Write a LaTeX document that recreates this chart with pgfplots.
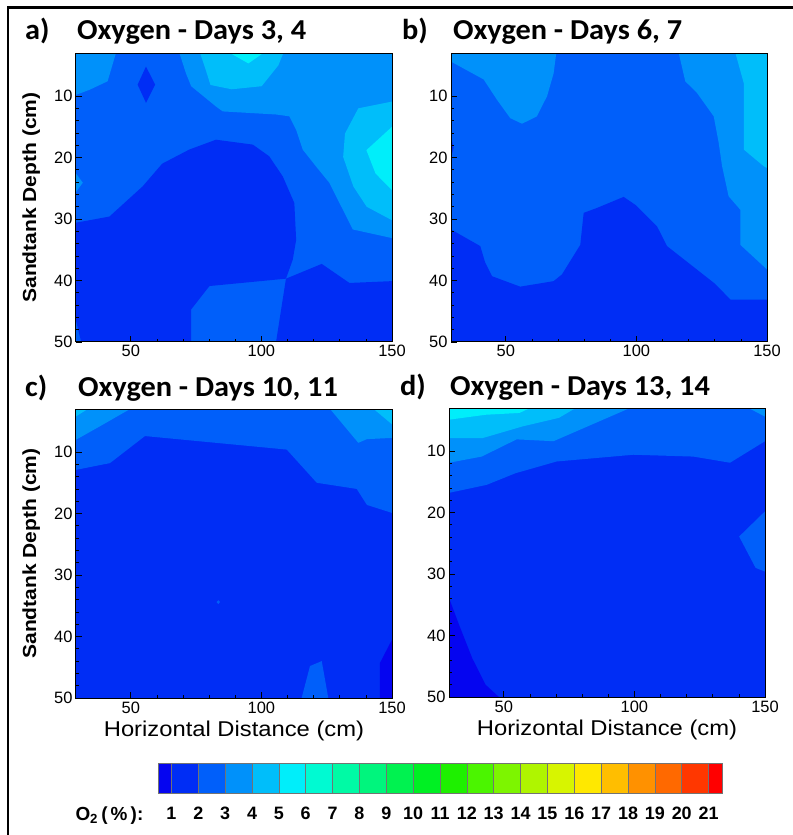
\documentclass[border=0pt]{standalone}
\usepackage{pgfplots}
\pgfplotsset{compat=1.18}
\usepackage{fontspec}
\setmainfont{Liberation Sans}
\newfontfamily\titlefont{Carlito}[FakeStretch=1.05]
\newfontfamily\widesans{Liberation Sans}[FakeStretch=1.11]

% O2 contour levels (Tecplot-like rainbow)
\definecolor{lev0}{RGB}{5,5,240}
\definecolor{lev1}{RGB}{0,45,245}
\definecolor{lev2}{RGB}{0,95,250}
\definecolor{lev3}{RGB}{0,145,250}
\definecolor{lev4}{RGB}{0,190,250}
\definecolor{lev5}{RGB}{0,238,250}
\definecolor{lev6}{RGB}{0,250,210}
\definecolor{lev7}{RGB}{0,250,165}
\definecolor{lev8}{RGB}{0,245,125}
\definecolor{lev9}{RGB}{0,242,80}
\definecolor{lev10}{RGB}{0,240,35}
\definecolor{lev11}{RGB}{30,240,0}
\definecolor{lev12}{RGB}{75,245,0}
\definecolor{lev13}{RGB}{125,245,0}
\definecolor{lev14}{RGB}{175,245,0}
\definecolor{lev15}{RGB}{215,245,0}
\definecolor{lev16}{RGB}{255,232,0}
\definecolor{lev17}{RGB}{255,190,0}
\definecolor{lev18}{RGB}{255,145,0}
\definecolor{lev19}{RGB}{255,105,0}
\definecolor{lev20}{RGB}{255,55,0}
\definecolor{lev21}{RGB}{255,0,0}

% one filled contour band
\newcommand\region[2]{\addplot[fill=#1,draw=none,forget plot] coordinates {#2} -- cycle;}
% one colour-bar cell
\newcommand\cell[3]{\addplot[fill=#3,draw=black!55,line width=0.5bp,forget plot] coordinates {(#1,0) (#2,0) (#2,1) (#1,1)} -- cycle;}

\pgfplotsset{
  panel/.style={
    anchor=south west, scale only axis, width=316bp, height=289bp,
    xmin=29, xmax=150, ymin=3, ymax=50, y dir=reverse,
    axis on top,
    xtick={50,100,150}, ytick={10,20,30,40,50},
    minor x tick num=4, minor y tick num=4,
    tick align=inside, xtick pos=bottom, ytick pos=left,
    major tick length=6bp, minor tick length=3bp,
    tick style={black, line width=0.7bp},
    axis line style={black, line width=1bp},
    /pgf/number format/assume math mode=true,
    tick label style={font=\fontsize{16.5}{18}\selectfont},
    ylabel style={font=\widesans\bfseries\fontsize{19}{22}\selectfont,
      at={(axis description cs:-0.142,0.5)}, anchor=center},
    xlabel style={font=\widesans\fontsize{21.5}{24}\selectfont,
      at={(axis description cs:0.5,-0.114)}, anchor=center},
  },
}

\begin{document}
\begin{tikzpicture}
\useasboundingbox (0,0) rectangle (793bp,835bp);
\fill[white] (0,0) rectangle (793bp,835bp);
\draw[line width=2.6bp] (7.8bp,-10bp) -- (7.8bp,827.5bp) -- (810bp,827.5bp);

% a) Days 3, 4
\begin{axis}[panel, at={(76bp,493bp)}, ylabel={Sandtank Depth (cm)}]
\region{lev2}{(29,3) (150,3) (150,50) (29,50)}
\region{lev3}{(29,3) (44.3,3) (41.1,7.6) (34.1,9.0) (29,9.8)}
\region{lev3}{(29,22.6) (31.6,24.1) (29,25.6)}
\region{lev3}{(68.6,3) (71.1,6.3) (73.1,8.4) (82.6,11.7) (85.2,12.5) (105.6,13.0) (110.7,13.3) (113.3,15.5) (115.8,18.7) (121,21.5) (126,24.1) (131.2,28.5) (135,31.7) (150,33.1) (150,3)}
\region{lev4}{(76.5,3) (78.5,5.5) (80.5,8.2) (88.6,8.9) (100.1,8.4) (106.5,5) (108.4,3)}
\region{lev5}{(88,3) (95,4.7) (100.7,3)}
\region{lev4}{(150,10.9) (137.1,12) (132,16.1) (131.3,19.9) (135.2,24.7) (140.3,28) (150,30.2)}
\region{lev5}{(150,15.0) (140.2,18.8) (143.7,22.6) (150,25.3)}
\region{lev1}{(55.8,5.2) (59.3,8.15) (55.8,11.1) (52.6,8.15)}
\region{lev1}{(29,30.6) (41.8,29.6) (54.5,24.7) (62,21) (72.4,18.7) (82.6,17.1) (96.7,17.9) (103,19.8) (108.2,23.1) (112.6,27.4) (113.3,33.4) (112,36.6) (109.4,39.7) (80.1,40.9) (73.1,44.7) (73.1,50) (31,50) (29,46.5)}
\region{lev1}{(109.4,39.7) (123.1,37.3) (133.7,40.4) (150,40.1) (150,50) (105.6,50)}
\end{axis}

% b) Days 6, 7
\begin{axis}[panel, at={(451bp,493bp)}]
\region{lev2}{(29,3) (150,3) (150,50) (29,50)}
\region{lev3}{(29,3) (69.3,3) (68.3,6.3) (65.8,10.0) (61.9,13.3) (56.2,14.5) (51.7,13.6) (46.6,10.6) (41.5,7.3) (29,4.4)}
\region{lev3}{(116.2,3) (118.7,7.6) (123.2,9.5) (129.6,13.3) (131.5,17.6) (132.8,21.4) (135.3,26.3) (139.8,28.5) (139.8,34.2) (150,38.2) (150,3)}
\region{lev4}{(137.9,3) (141.1,7.9) (141.1,18.7) (148.7,21.4) (150,21.7) (150,3)}
\region{lev1}{(29,16.5) (30,18.4) (29,20.1)}
\region{lev1}{(29,31.7) (40.2,34.4) (42.1,37.1) (44.7,39.3) (55.5,41.0) (68.3,40.1) (71.5,39.0) (78.5,34.2) (79.8,29.0) (84.9,28.2) (95.1,26.4) (99.6,27.7) (107.9,31.2) (111.7,34.4) (121.9,37.8) (130,40.5) (136,43.1) (150,43.1) (150,50) (29,50)}
\end{axis}

% c) Days 10, 11
\begin{axis}[panel, at={(76bp,137bp)}, ylabel={Sandtank Depth (cm)}, xlabel={Horizontal Distance (cm)}]
\region{lev1}{(29,3) (150,3) (150,50) (29,50)}
\region{lev2}{(29,3) (150,3) (150,19.9) (140.4,18.6) (136.5,16.0) (121.2,15.0) (109.7,9.6) (55.4,7.4) (42,11.8) (29,12.9)}
\region{lev3}{(29,3) (49.7,3) (38.2,5.8) (29,8)}
\region{lev4}{(29,3) (33.5,3) (29,4.2)}
\region{lev3}{(126.3,3) (137.1,8.5) (140.4,7.9) (150,7.7) (150,3)}
\region{lev4}{(143,3) (150,3) (150,5.5)}
\region{lev2}{(115.4,50) (118.6,44.8) (123.1,44) (125.6,50)}
\region{lev0}{(145.4,50) (145.4,44.3) (150,40.5) (150,50)}
\region{lev2}{(82.8,34.4) (83.5,34.1) (84.2,34.4) (83.5,34.7)}
\end{axis}

% d) Days 13, 14
\begin{axis}[panel, at={(449bp,138bp)}, xlabel={Horizontal Distance (cm)}]
\region{lev1}{(29,3) (150,3) (150,50) (29,50)}
\region{lev2}{(29,3) (150,3) (150,8.4) (136.6,11.9) (122.6,10.9) (99.6,10.6) (70.2,11.7) (54.5,13.6) (43.4,15.5) (29,16.8)}
\region{lev3}{(29,3) (98.3,3) (69,8.4) (54.9,8.1) (41.5,10.9) (29,11.9)}
\region{lev4}{(29,3) (77.5,3) (71.1,4.6) (57.1,6) (41.8,7.9) (29,7.9)}
\region{lev5}{(29,3) (60,3) (56,3.8) (43,4.1) (29,4.9)}
\region{lev3}{(143.7,3) (150,3) (150,4.4)}
\region{lev2}{(150,19.8) (140.1,23.9) (146.4,29) (150,29.6)}
\region{lev0}{(29,33.9) (32.8,38.2) (37.9,43.7) (43,48) (48.1,50) (29,50)}
\end{axis}

% colour bar
\begin{axis}[at={(158bp,42bp)}, anchor=south west, scale only axis,
  width=564bp, height=30bp, xmin=0.5, xmax=21.5, ymin=0, ymax=1,
  ytick=\empty, xtick={1,...,21}, major tick length=0pt,
  axis line style={draw=black!55, line width=0.5bp},
  /pgf/number format/assume math mode=true,
  xticklabel style={font=\bfseries\fontsize{18}{20}\selectfont, inner sep=0pt, yshift=-14bp}]
\cell{0.5}{1}{lev0}
\cell{1}{2}{lev1}
\cell{2}{3}{lev2}
\cell{3}{4}{lev3}
\cell{4}{5}{lev4}
\cell{5}{6}{lev5}
\cell{6}{7}{lev6}
\cell{7}{8}{lev7}
\cell{8}{9}{lev8}
\cell{9}{10}{lev9}
\cell{10}{11}{lev10}
\cell{11}{12}{lev11}
\cell{12}{13}{lev12}
\cell{13}{14}{lev13}
\cell{14}{15}{lev14}
\cell{15}{16}{lev15}
\cell{16}{17}{lev16}
\cell{17}{18}{lev17}
\cell{18}{19}{lev18}
\cell{19}{20}{lev19}
\cell{20}{21}{lev20}
\cell{21}{21.5}{lev21}
\end{axis}

\node[anchor=base west, font=\bfseries\fontsize{19}{22}\selectfont] at (72bp,15bp) {O\textsubscript{2}\,(\,\%\,):};

% panel titles
\begin{scope}[every node/.style={anchor=base west, font=\titlefont\bfseries\fontsize{29}{32}\selectfont, inner sep=0pt}]
\node at (25bp,795bp) {a)};
\node at (77bp,795bp) {Oxygen - Days 3, 4};
\node at (402bp,795bp) {b)};
\node at (453bp,795bp) {Oxygen - Days 6, 7};
\node at (25bp,438.5bp) {c)};
\node at (78bp,438.5bp) {Oxygen - Days 10, 11};
\node at (400bp,439bp) {d)};
\node at (450bp,439bp) {Oxygen - Days 13, 14};
\end{scope}
\end{tikzpicture}
\end{document}
